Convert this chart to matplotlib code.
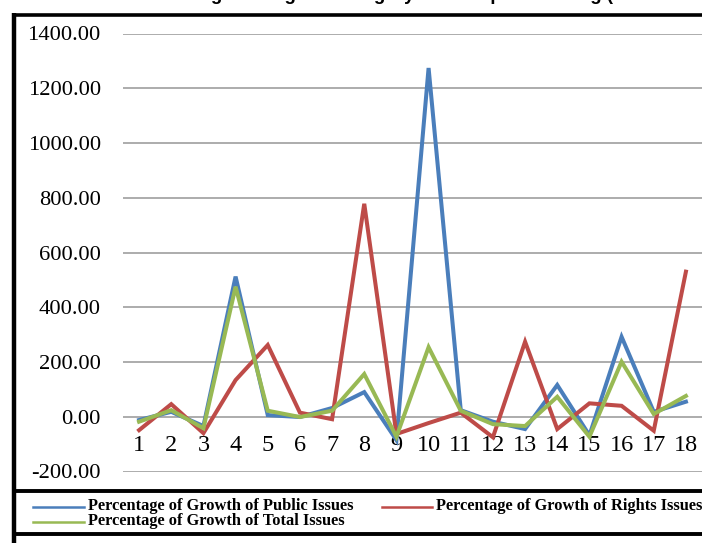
import matplotlib
matplotlib.use('Agg')
from matplotlib import pyplot as plt

# year index 1..18
periods = list(range(1, 19))
public_issues = [-12, 18, -34, 512, 6, -1, 32, 90, -85, 1274, 24, -18, -45, 116, -68, 292, 18, 55]
rights_issues = [-49, 46, -60, 134, 262, 15, -9, 778, -63, -23, 15, -75, 274, -45, 49, 40, -51, 530]
total_issues = [-18, 24, -42, 475, 22, -1, 22, 156, -73, 254, 22, -27, -34, 73, -73, 201, 10, 76]

series_names = ['Percentage of Growth of Public Issues',
                'Percentage of Growth of Rights Issues',
                'Percentage of Growth of Total Issues']
colors = ['#4a7ebb', '#be4b48', '#98b954']

yticks = list(range(-200, 1401, 200))

W, H = 702, 543
fig = plt.figure(figsize=(W / 100, H / 100), dpi=100)

# frame, legend box and title live in a pixel-space background axes
bg = fig.add_axes([0, 0, 1, 1], zorder=0)
bg.set_xlim(0, W)
bg.set_ylim(H, 0)
bg.axis('off')
bg.plot([14, 14], [13, H], color='black', lw=3.2, solid_capstyle='butt')
bg.plot([12, W], [14.5, 14.5], color='black', lw=2.6, solid_capstyle='butt')
bg.plot([14, W], [491, 491], color='black', lw=2.8, solid_capstyle='butt')
bg.plot([14, W], [534, 534], color='black', lw=2.8, solid_capstyle='butt')
bg.text(420, 0, 'Percentage Change in Category-wise Capital Raising (2000-2018)',
        ha='center', va='baseline', fontsize=13.5, fontweight='bold',
        family='Liberation Sans')

# legend, drawn by hand
leg_font = dict(family='Liberation Serif', fontweight='bold', fontsize=11.8,
                va='center', ha='left')
bg.plot([33, 84], [507, 507], color=colors[0], lw=1.8)
bg.text(88, 506, series_names[0], **leg_font)
bg.plot([382, 432], [507, 507], color=colors[1], lw=1.8)
bg.text(436, 506, series_names[1], **leg_font)
bg.plot([33, 84], [522, 522], color=colors[2], lw=1.8)
bg.text(88, 521, series_names[2], **leg_font)

ax = fig.add_axes([123 / W, (H - 471.5) / H, 1 - 123 / W, (471.5 - 33.5) / H], zorder=1)
ax.patch.set_alpha(0)
ax.plot(periods, public_issues, color=colors[0], lw=2.9, solid_joinstyle='miter')
ax.plot(periods, rights_issues, color=colors[1], lw=2.9, solid_joinstyle='miter')
ax.plot(periods, total_issues, color=colors[2], lw=2.9, solid_joinstyle='miter')

# category labels sit just under the zero line
ax.spines['bottom'].set_position(('data', 0))
for s in ax.spines.values():
    s.set_visible(False)

ax.set_xlim(0.5, 18.5)
ax.set_ylim(-200, 1400)
ax.set_yticks(yticks)
ax.set_yticklabels([f'{v:.2f}' for v in yticks], family='Liberation Serif', fontsize=16.2)
ax.set_xticks(periods)
ax.set_xticklabels([str(p) for p in periods], family='Liberation Serif', fontsize=17.5)
ax.tick_params(axis='x', length=0, pad=13)
ax.tick_params(axis='y', length=0, pad=16)
ax.grid(axis='y', color='#a6a6a6', lw=1.3)
ax.set_axisbelow(True)

fig.savefig('out.png', dpi=100)
